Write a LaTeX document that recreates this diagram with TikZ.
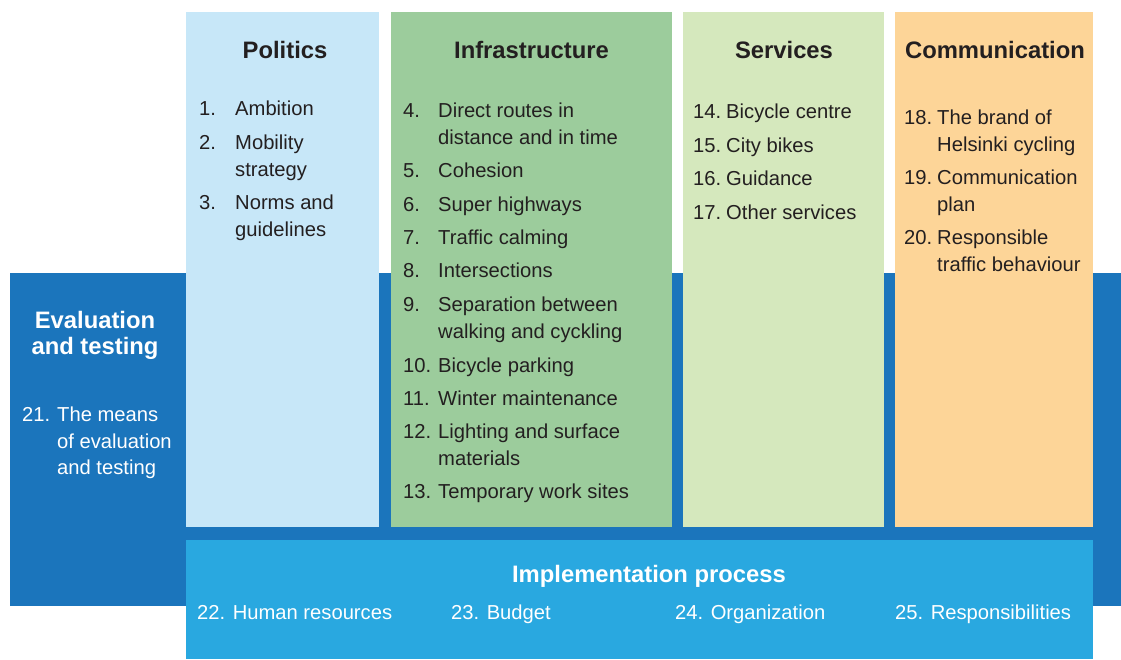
\documentclass[tikz,border=0pt]{standalone}
\usepackage{fontspec}
\setmainfont{Liberation Sans}
\definecolor{evalblue}{HTML}{1B75BC}
\definecolor{implblue}{HTML}{29A8E0}
\definecolor{polblue}{HTML}{C7E7F8}
\definecolor{infgreen}{HTML}{9CCC9C}
\definecolor{servgreen}{HTML}{D5E8BD}
\definecolor{commorange}{HTML}{FDD598}
\definecolor{txt}{HTML}{231F20}
\tikzset{
  itm/.style={inner sep=0pt, anchor=base west, text=txt, font=\fontsize{20.2}{24}\selectfont},
  witm/.style={itm, text=white},
  ttl/.style={inner sep=0pt, anchor=base, text=txt, font=\fontsize{23.8}{28}\selectfont\bfseries},
  wttl/.style={ttl, text=white},
}
\begin{document}
\begin{tikzpicture}[x=1pt,y=-1pt]
\useasboundingbox (0,0) rectangle (1121,659);
% backgrounds
\fill[evalblue] (10,273) rectangle (1121,606);
\fill[polblue] (186,12) rectangle (379,527);
\fill[infgreen] (391,12) rectangle (672,527);
\fill[servgreen] (683,12) rectangle (884,527);
\fill[commorange] (895,12) rectangle (1093,527);
\fill[implblue] (186,540) rectangle (1093,659);

% titles
\node[ttl] (tpol) at (285,58) {Politics};
\node[ttl] (tinf) at (531.5,58) {Infrastructure};
\node[ttl] (tser) at (784,58) {Services};
\node[ttl] (tcom) at (995,58) {Communication};
\node[wttl] (teva1) at (95,328) {Evaluation};
\node[wttl] (teva2) at (95,354) {and testing};
\node[wttl] (timp) at (649,582) {Implementation process};

% Politics
\node[itm] (n1) at (199,115) {1.};  \node[itm] (i1) at (235,115) {Ambition};
\node[itm] (n2) at (199,149) {2.};  \node[itm] (i2a) at (235,149) {Mobility};
\node[itm] (i2b) at (235,176) {strategy};
\node[itm] (n3) at (199,209) {3.};  \node[itm] (i3a) at (235,209) {Norms and};
\node[itm] (i3b) at (235,236) {guidelines};

% Infrastructure
\node[itm] (n4) at (403,117) {4.};  \node[itm] (i4a) at (438,117) {Direct routes in};
\node[itm] (i4b) at (438,144) {distance and in time};
\node[itm] (n5) at (403,177) {5.};  \node[itm] (i5) at (438,177) {Cohesion};
\node[itm] (n6) at (403,211) {6.};  \node[itm] (i6) at (438,211) {Super highways};
\node[itm] (n7) at (403,244) {7.};  \node[itm] (i7) at (438,244) {Traffic calming};
\node[itm] (n8) at (403,277) {8.};  \node[itm] (i8) at (438,277) {Intersections};
\node[itm] (n9) at (403,311) {9.};  \node[itm] (i9a) at (438,311) {Separation between};
\node[itm] (i9b) at (438,338) {walking and cyckling};
\node[itm] (n10) at (403,372) {10.}; \node[itm] (i10) at (438,372) {Bicycle parking};
\node[itm] (n11) at (403,405) {11.}; \node[itm] (i11) at (438,405) {Winter maintenance};
\node[itm] (n12) at (403,438) {12.}; \node[itm] (i12a) at (438,438) {Lighting and surface};
\node[itm] (i12b) at (438,465) {materials};
\node[itm] (n13) at (403,498) {13.}; \node[itm] (i13) at (438,498) {Temporary work sites};

% Services
\node[itm] (n14) at (693,118) {14.}; \node[itm] (i14) at (726,118) {Bicycle centre};
\node[itm] (n15) at (693,152) {15.}; \node[itm] (i15) at (726,152) {City bikes};
\node[itm] (n16) at (693,185) {16.}; \node[itm] (i16) at (726,185) {Guidance};
\node[itm] (n17) at (693,219) {17.}; \node[itm] (i17) at (726,219) {Other services};

% Communication
\node[itm] (n18) at (904,124) {18.}; \node[itm] (i18a) at (937,124) {The brand of};
\node[itm] (i18b) at (937,151) {Helsinki cycling};
\node[itm] (n19) at (904,184) {19.}; \node[itm] (i19a) at (937,184) {Communication};
\node[itm] (i19b) at (937,211) {plan};
\node[itm] (n20) at (904,244) {20.}; \node[itm] (i20a) at (937,244) {Responsible};
\node[itm] (i20b) at (937,271) {traffic behaviour};

% Evaluation
\node[witm] (n21) at (22,421) {21.}; \node[witm] (i21a) at (57,421) {The means};
\node[witm] (i21b) at (57,448) {of evaluation};
\node[witm] (i21c) at (57,474) {and testing};

% Implementation
\node[witm] (i22) at (197,619) {22. Human resources};
\node[witm] (i23) at (451,619) {23. Budget};
\node[witm] (i24) at (675,619) {24. Organization};
\node[witm] (i25) at (895,619) {25. Responsibilities};
\end{tikzpicture}
\end{document}
